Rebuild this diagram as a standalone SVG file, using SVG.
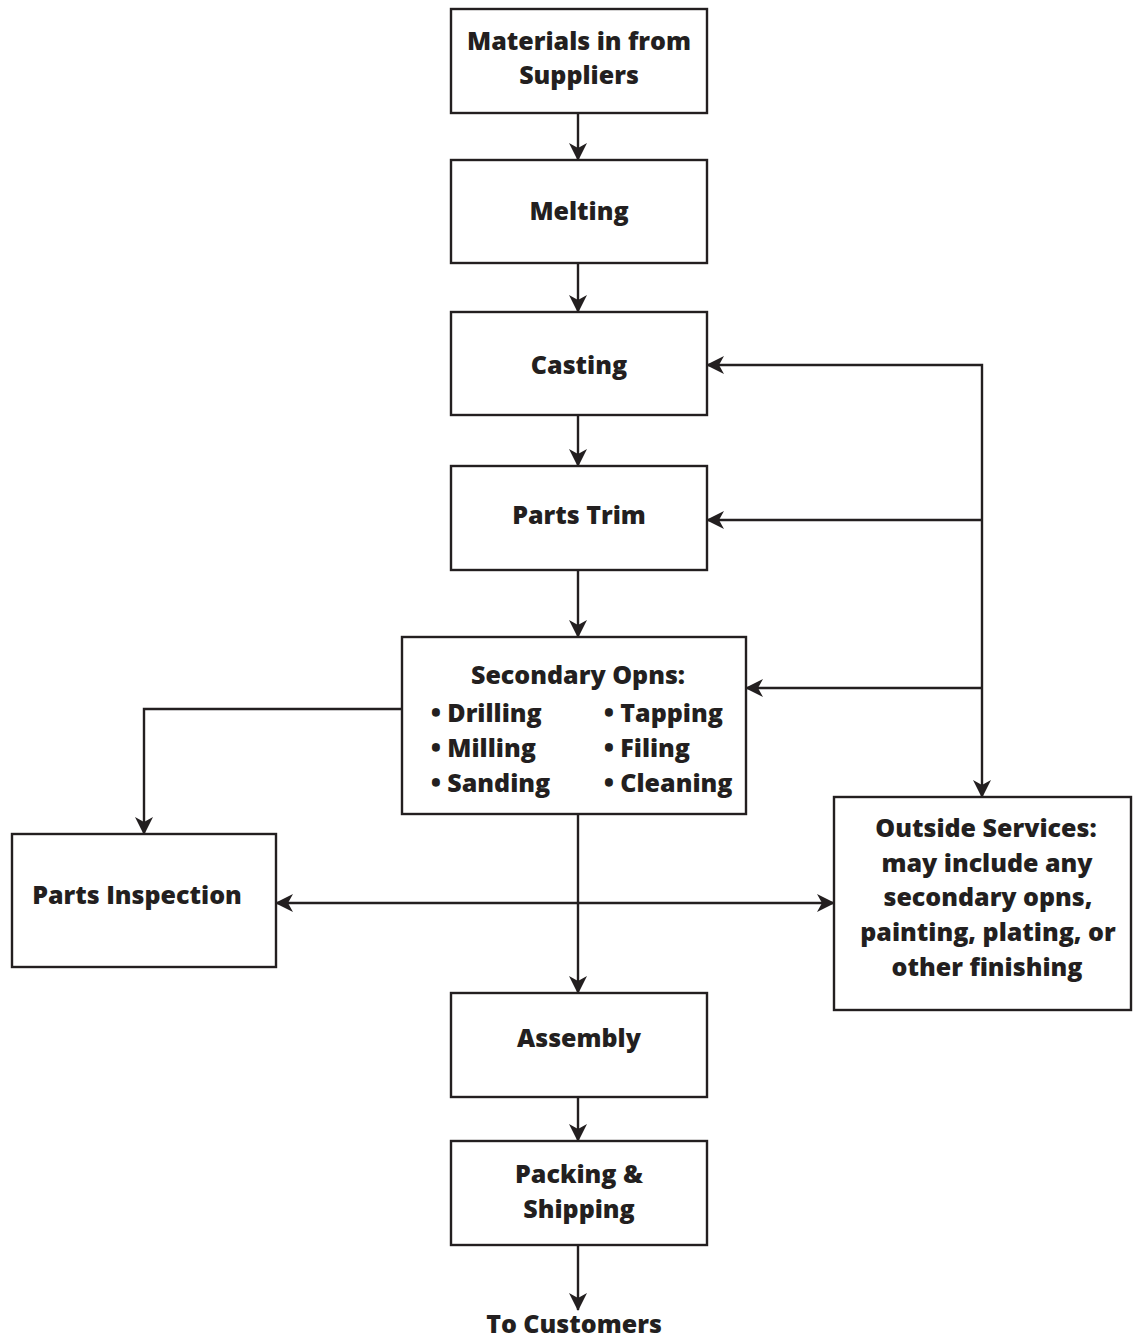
<svg xmlns="http://www.w3.org/2000/svg" width="1133" height="1338" viewBox="0 0 1133 1338">
  <style>
    .box { fill: #ffffff; stroke: #231f20; stroke-width: 2.4; }
    .wire { fill: none; stroke: #231f20; stroke-width: 2.4; }
    text { font-family: "Open Sans", "Liberation Sans", sans-serif; font-weight: 800; font-size: 25px; fill: #231f20; }
    .c { text-anchor: middle; }
  </style>
  <defs>
    <marker id="arrow" markerUnits="userSpaceOnUse" markerWidth="18" markerHeight="18" refX="17" refY="9" orient="auto-start-reverse" viewBox="0 0 18 18">
      <path d="M0,0 L18,9 L0,18 L5,9 Z" fill="#231f20"/>
    </marker>
  </defs>
  <rect width="1133" height="1338" fill="#ffffff"/>

  <g id="connectors">
    <line class="wire" x1="578" y1="113" x2="578" y2="160" marker-end="url(#arrow)"/>
    <line class="wire" x1="578" y1="263" x2="578" y2="312" marker-end="url(#arrow)"/>
    <line class="wire" x1="578" y1="415" x2="578" y2="466" marker-end="url(#arrow)"/>
    <line class="wire" x1="578" y1="570" x2="578" y2="637" marker-end="url(#arrow)"/>
    <line class="wire" x1="578" y1="814" x2="578" y2="993" marker-end="url(#arrow)"/>
    <line class="wire" x1="578" y1="1097" x2="578" y2="1141" marker-end="url(#arrow)"/>
    <line class="wire" x1="578" y1="1245" x2="578" y2="1310" marker-end="url(#arrow)"/>
    <!-- return paths from outside services -->
    <polyline class="wire" points="982,797 982,365 707,365" marker-start="url(#arrow)" marker-end="url(#arrow)"/>
    <line class="wire" x1="982" y1="520" x2="707" y2="520" marker-end="url(#arrow)"/>
    <line class="wire" x1="982" y1="688" x2="746" y2="688" marker-end="url(#arrow)"/>
    <!-- secondary opns to inspection -->
    <polyline class="wire" points="402,709 144,709 144,834" marker-end="url(#arrow)"/>
    <!-- inspection to outside services -->
    <line class="wire" x1="276" y1="903" x2="834" y2="903" marker-start="url(#arrow)" marker-end="url(#arrow)"/>
  </g>

  <g id="materials">
    <rect class="box" x="451" y="9" width="256" height="104"/>
    <text class="c" x="579" y="50">Materials in from</text>
    <text class="c" x="579" y="84">Suppliers</text>
  </g>
  <g id="melting">
    <rect class="box" x="451" y="160" width="256" height="103"/>
    <text class="c" x="579" y="220">Melting</text>
  </g>
  <g id="casting">
    <rect class="box" x="451" y="312" width="256" height="103"/>
    <text class="c" x="579" y="374">Casting</text>
  </g>
  <g id="parts-trim">
    <rect class="box" x="451" y="466" width="256" height="104"/>
    <text class="c" x="579" y="524">Parts Trim</text>
  </g>
  <g id="secondary-opns">
    <rect class="box" x="402" y="637" width="344" height="177"/>
    <text class="c" x="578" y="684">Secondary Opns:</text>
    <text x="431" y="722">• Drilling</text>
    <text x="431" y="757">• Milling</text>
    <text x="431" y="792">• Sanding</text>
    <text x="604" y="722">• Tapping</text>
    <text x="604" y="757">• Filing</text>
    <text x="604" y="792">• Cleaning</text>
  </g>
  <g id="parts-inspection">
    <rect class="box" x="12" y="834" width="264" height="133"/>
    <text class="c" x="137" y="904">Parts Inspection</text>
  </g>
  <g id="outside-services">
    <rect class="box" x="834" y="797" width="297" height="213"/>
    <text class="c" x="986" y="837">Outside Services:</text>
    <text class="c" x="987" y="872">may include any</text>
    <text class="c" x="988" y="906">secondary opns,</text>
    <text class="c" x="988" y="941">painting, plating, or</text>
    <text class="c" x="987" y="976">other finishing</text>
  </g>
  <g id="assembly">
    <rect class="box" x="451" y="993" width="256" height="104"/>
    <text class="c" x="579" y="1047">Assembly</text>
  </g>
  <g id="packing-shipping">
    <rect class="box" x="451" y="1141" width="256" height="104"/>
    <text class="c" x="579" y="1183">Packing &amp;</text>
    <text class="c" x="579" y="1218">Shipping</text>
  </g>
  <g id="to-customers">
    <text class="c" x="574" y="1333">To Customers</text>
  </g>
</svg>
